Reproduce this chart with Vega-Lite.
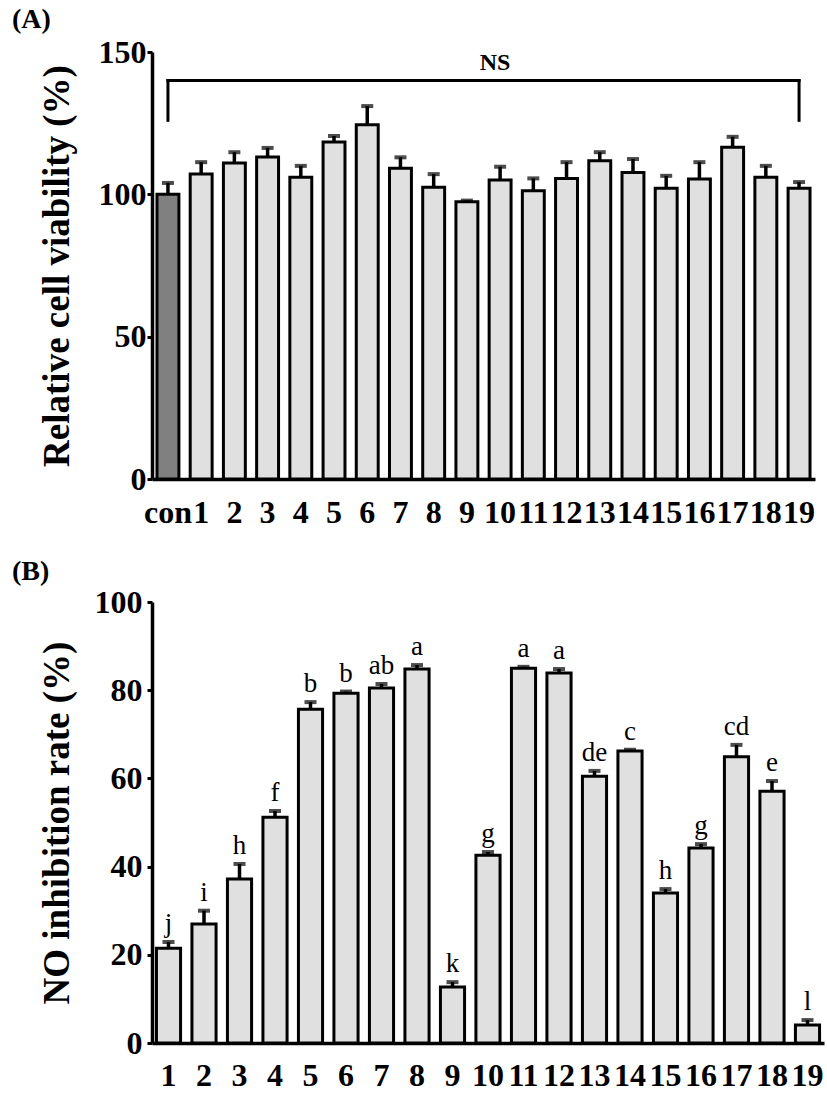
{
  "$schema": "https://vega.github.io/schema/vega-lite/v6.json",
  "padding": {"left": 12, "top": 6, "right": 5, "bottom": 0},
  "spacing": 30,
  "config": {
    "view": {"stroke": null},
    "font": "Liberation Serif",
    "axis": {"labelFont": "Liberation Serif", "titleFont": "Liberation Serif", "grid": false, "domainColor": "black", "tickColor": "black", "labelColor": "black", "titleColor": "black"}
  },
  "vconcat": [
    {
      "width": 663,
      "height": 427,
      "title": {"text": "(A)", "anchor": "start", "frame": "group", "dx": -140, "fontSize": 28, "fontWeight": "bold", "font": "Liberation Serif", "color": "black", "offset": 2},
      "data": {"values": [
        {"c": "con", "v": 100, "e": 104, "g": "con"},
        {"c": "1", "v": 107.1, "e": 111.3, "g": "s"},
        {"c": "2", "v": 111, "e": 114.8, "g": "s"},
        {"c": "3", "v": 113.1, "e": 116.3, "g": "s"},
        {"c": "4", "v": 106, "e": 110, "g": "s"},
        {"c": "5", "v": 118.4, "e": 120.5, "g": "s"},
        {"c": "6", "v": 124.4, "e": 131, "g": "s"},
        {"c": "7", "v": 109.2, "e": 113, "g": "s"},
        {"c": "8", "v": 102.5, "e": 107.1, "g": "s"},
        {"c": "9", "v": 97.4, "e": 97.8, "g": "s"},
        {"c": "10", "v": 105, "e": 109.7, "g": "s"},
        {"c": "11", "v": 101.3, "e": 105.6, "g": "s"},
        {"c": "12", "v": 105.6, "e": 111.3, "g": "s"},
        {"c": "13", "v": 111.8, "e": 114.8, "g": "s"},
        {"c": "14", "v": 107.7, "e": 112.4, "g": "s"},
        {"c": "15", "v": 102.1, "e": 106.5, "g": "s"},
        {"c": "16", "v": 105.4, "e": 111.3, "g": "s"},
        {"c": "17", "v": 116.5, "e": 120.2, "g": "s"},
        {"c": "18", "v": 106, "e": 110, "g": "s"},
        {"c": "19", "v": 102.1, "e": 104.3, "g": "s"}
      ]},
      "layer": [
        {
          "mark": {"type": "bar", "stroke": "black", "strokeWidth": 3},
          "encoding": {
            "x": {"field": "c", "type": "nominal", "sort": null,
              "scale": {"domain": ["con","1","2","3","4","5","6","7","8","9","10","11","12","13","14","15","16","17","18","19"], "paddingInner": 0.34, "paddingOuter": 0.15},
              "axis": {"title": null, "labelAngle": 0, "labelFontSize": 32, "labelFontWeight": "bold", "ticks": false, "tickSize": 0, "labelPadding": 18, "domainWidth": 3.5}},
            "y": {"field": "v", "type": "quantitative",
              "scale": {"domain": [0, 150], "nice": false},
              "axis": {"title": "Relative cell viability (%)", "values": [0, 50, 100, 150], "titleFontSize": 37, "titleFontWeight": "bold", "labelFontSize": 32, "labelFontWeight": "bold", "tickSize": 5, "tickWidth": 3, "domainWidth": 3.5, "labelPadding": 1, "titlePadding": 22}},
            "fill": {"field": "g", "type": "nominal", "scale": {"domain": ["con", "s"], "range": ["#808080", "#e0e0e0"]}, "legend": null}
          }
        },
        {
          "mark": {"type": "rule", "strokeWidth": 3.5, "color": "black"},
          "encoding": {
            "x": {"field": "c", "type": "nominal", "sort": null},
            "y": {"field": "v", "type": "quantitative"},
            "y2": {"field": "e"}
          }
        },
        {
          "mark": {"type": "tick", "orient": "horizontal", "size": 12, "thickness": 4, "color": "black"},
          "encoding": {
            "x": {"field": "c", "type": "nominal", "sort": null},
            "y": {"field": "e", "type": "quantitative"}
          }
        },
        {
          "data": {"values": [{"c": "con", "c2": "19", "y": 140}]},
          "mark": {"type": "rule", "strokeWidth": 3, "color": "black", "strokeCap": "square"},
          "encoding": {
            "x": {"field": "c", "type": "nominal"},
            "x2": {"field": "c2"},
            "y": {"field": "y", "type": "quantitative"}
          }
        },
        {
          "data": {"values": [{"c": "con", "y1": 126, "y2": 140}, {"c": "19", "y1": 126, "y2": 140}]},
          "mark": {"type": "rule", "strokeWidth": 3, "color": "black", "strokeCap": "square"},
          "encoding": {
            "x": {"field": "c", "type": "nominal"},
            "y": {"field": "y1", "type": "quantitative"},
            "y2": {"field": "y2"}
          }
        },
        {
          "data": {"values": [{"c": "10", "y": 146, "t": "NS"}]},
          "mark": {"type": "text", "font": "Liberation Serif", "fontWeight": "bold", "fontSize": 24, "dx": -5, "baseline": "middle", "color": "black"},
          "encoding": {
            "x": {"field": "c", "type": "nominal"},
            "y": {"field": "y", "type": "quantitative"},
            "text": {"field": "t"}
          }
        }
      ]
    },
    {
      "width": 672,
      "height": 441,
      "title": {"text": "(B)", "anchor": "start", "frame": "group", "dx": -140, "fontSize": 28, "fontWeight": "bold", "font": "Liberation Serif", "color": "black", "offset": 0},
      "data": {"values": [
        {"c": "1", "v": 21.5, "e": 22.9, "l": "j"},
        {"c": "2", "v": 27, "e": 30, "l": "i"},
        {"c": "3", "v": 37.2, "e": 40.6, "l": "h"},
        {"c": "4", "v": 51.2, "e": 52.6, "l": "f"},
        {"c": "5", "v": 75.7, "e": 77.3, "l": "b"},
        {"c": "6", "v": 79.3, "e": 79.7, "l": "b"},
        {"c": "7", "v": 80.5, "e": 81.4, "l": "ab"},
        {"c": "8", "v": 84.8, "e": 85.7, "l": "a"},
        {"c": "9", "v": 12.7, "e": 13.8, "l": "k"},
        {"c": "10", "v": 42.6, "e": 43.3, "l": "g"},
        {"c": "11", "v": 85, "e": 85.3, "l": "a"},
        {"c": "12", "v": 83.9, "e": 84.8, "l": "a"},
        {"c": "13", "v": 60.5, "e": 61.7, "l": "de"},
        {"c": "14", "v": 66.2, "e": 66.5, "l": "c"},
        {"c": "15", "v": 34, "e": 34.9, "l": "h"},
        {"c": "16", "v": 44.2, "e": 45.1, "l": "g"},
        {"c": "17", "v": 64.9, "e": 67.6, "l": "cd"},
        {"c": "18", "v": 57.1, "e": 59.4, "l": "e"},
        {"c": "19", "v": 4.1, "e": 5.2, "l": "l"}
      ]},
      "encoding": {
        "x": {"field": "c", "type": "nominal", "sort": null,
          "scale": {"paddingInner": 0.32, "paddingOuter": 0.125},
          "axis": {"title": null, "labelAngle": 0, "labelFontSize": 32, "labelFontWeight": "bold", "ticks": false, "tickSize": 0, "labelPadding": 17, "domainWidth": 3.5}}
      },
      "layer": [
        {
          "mark": {"type": "bar", "stroke": "black", "strokeWidth": 3, "fill": "#e0e0e0"},
          "encoding": {
            "y": {"field": "v", "type": "quantitative",
              "scale": {"domain": [0, 100], "nice": false},
              "axis": {"title": "NO inhibition rate (%)", "values": [0, 20, 40, 60, 80, 100], "titleFontSize": 37, "titleFontWeight": "bold", "labelFontSize": 32, "labelFontWeight": "bold", "tickSize": 5, "tickWidth": 3, "domainWidth": 3.5, "labelPadding": 5, "titlePadding": 18}}
          }
        },
        {
          "mark": {"type": "rule", "strokeWidth": 3.5, "color": "black"},
          "encoding": {
            "y": {"field": "v", "type": "quantitative"},
            "y2": {"field": "e"}
          }
        },
        {
          "mark": {"type": "tick", "orient": "horizontal", "size": 12, "thickness": 4, "color": "black"},
          "encoding": {
            "y": {"field": "e", "type": "quantitative"}
          }
        },
        {
          "mark": {"type": "text", "font": "Liberation Serif", "fontSize": 27, "dy": -10, "baseline": "alphabetic", "color": "black"},
          "encoding": {
            "y": {"field": "e", "type": "quantitative"},
            "text": {"field": "l"}
          }
        }
      ]
    }
  ]
}
